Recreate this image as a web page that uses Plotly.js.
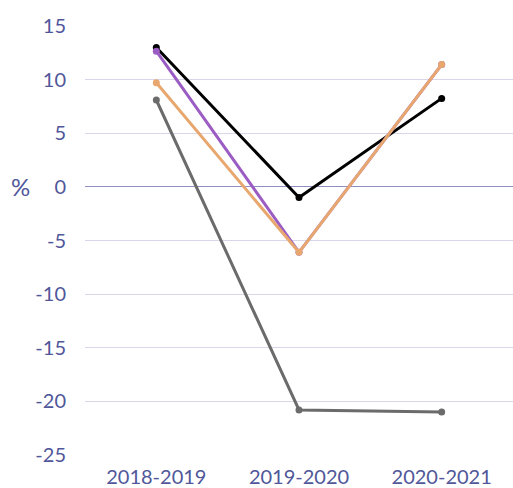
<!DOCTYPE html>
<html>
<head>
<meta charset="utf-8">
<script src="https://cdn.plot.ly/plotly-3.0.1.min.js"></script>
<style>html,body{margin:0;padding:0;background:#fff;}#chart{width:513px;height:488px;}</style>
</head>
<body>
<div id="chart"></div>
<script>
const categories = ["2018-2019", "2019-2020", "2020-2021"];
const seriesGray = [8.1, -20.8, -21.0];
const seriesBlack = [13.0, -1.0, 8.25];
const seriesPurple = [12.65, -6.1, 11.4];
const seriesOrange = [9.7, -6.1, 11.4];
const yTicks = [-25, -20, -15, -10, -5, 0, 5, 10, 15];
const yTickText = ["-25", "-20", "-15", "-10", "-5", "0", "5", "10", "15"];

const textColor = "#50579a";
function line(y, color) {
  return {
    x: categories, y: y, type: "scatter", mode: "lines+markers",
    line: {color: color, width: 3},
    marker: {color: color, size: 7},
    hoverinfo: "skip", showlegend: false, cliponaxis: false
  };
}
const data = [
  line(seriesGray, "#6b6b6b"),
  line(seriesBlack, "#000000"),
  line(seriesPurple, "#9b5dc4"),
  line(seriesOrange, "#e8a76e")
];
const layout = {
  width: 513, height: 488,
  margin: {l: 85, r: 0, t: 26, b: 33},
  paper_bgcolor: "#fff", plot_bgcolor: "#fff",
  font: {family: "Lato, sans-serif", color: textColor, size: 20},
  xaxis: {
    type: "category", range: [-0.5, 2.5],
    showgrid: false, zeroline: false, showline: false,
    ticks: "outside", ticklen: 4, tickcolor: "rgba(0,0,0,0)",
    tickfont: {size: 20, color: textColor}
  },
  yaxis: {
    range: [-25, 15], tickvals: yTicks, ticktext: yTickText,
    showgrid: true, gridcolor: "#d8d6e8", gridwidth: 1,
    zeroline: true, zerolinecolor: "#8f8dc2", zerolinewidth: 1,
    showline: false,
    ticks: "outside", ticklen: 14, tickcolor: "rgba(0,0,0,0)",
    tickfont: {size: 20, color: textColor}
  },
  annotations: [{
    text: "%", xref: "paper", yref: "y", x: 0, y: 0,
    xanchor: "center", yanchor: "middle", xshift: -65,
    showarrow: false, font: {size: 24, color: textColor}
  }]
};
Plotly.newPlot("chart", data, layout, {staticPlot: true, displayModeBar: false});
</script>
</body>
</html>
